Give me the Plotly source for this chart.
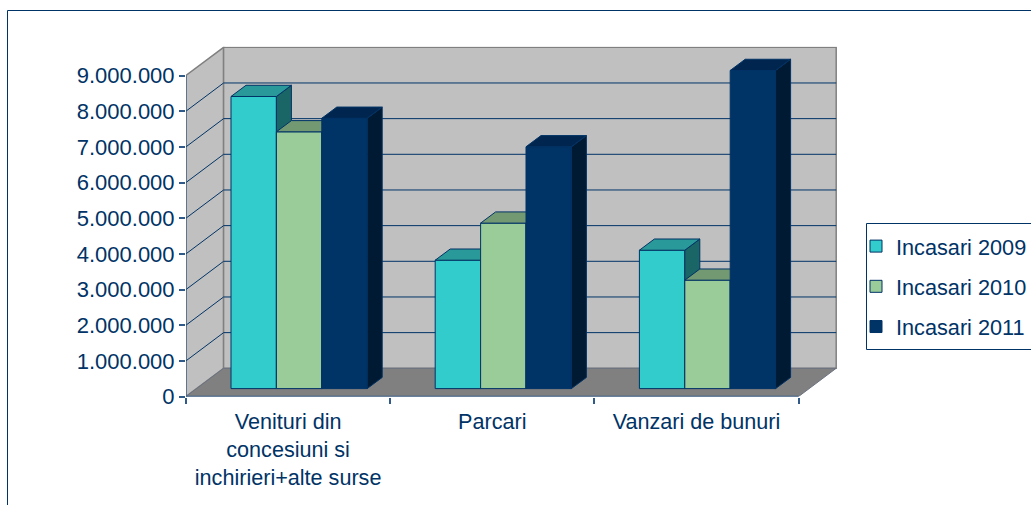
import plotly.graph_objects as go

W, H = 1031, 505
CATEGORIES = ["Venituri din<br>concesiuni si<br>inchirieri+alte surse", "Parcari", "Vanzari de bunuri"]
SERIES_NAMES = ["Incasari 2009", "Incasari 2010", "Incasari 2011"]
V2009 = [8190000, 3600000, 3880000]
V2010 = [7200000, 4640000, 3040000]
V2011 = [7580000, 6780000, 8920000]
Y_TICKS = [0, 1000000, 2000000, 3000000, 4000000, 5000000, 6000000, 7000000, 8000000, 9000000]
Y_LABELS = ["0", "1.000.000", "2.000.000", "3.000.000", "4.000.000", "5.000.000",
            "6.000.000", "7.000.000", "8.000.000", "9.000.000"]
FRONT = ["#33CCCC", "#99CC99", "#003366"]
TOP = ["#2A9999", "#739973", "#00264F"]
SIDE = ["#1A6666", "#4D664D", "#001A33"]
NAVY = "#003366"
AXIS = "#2F5A8A"
FONT = "Liberation Sans"

# geometry expressed in axis units
px_x = 612.6 / 3
px_y = 321.0 / 9e6
left, right, bottom, top = 186.0, 837.0, 396.5, 46.7
xmax = (right - left) / px_x
ymax = (bottom - top) / px_y
wall_dx = 37.6 / px_x
wall_dy = 28.2 / px_y
bar_dx = 15.0 / px_x
bar_dy = 11.2 / px_y
bar_w = 45.4 / px_x
bar_start = 45.0 / px_x
bar_base = 7.9 / px_y


def px(x):
    return x / W


def py(y):
    return 1 - y / H


def poly(points):
    return "M" + "L".join(f"{a},{b}" for a, b in points) + "Z"


shapes = []
# chart frame and legend frame
shapes.append(dict(type="rect", xref="paper", yref="paper", x0=px(7.5), x1=px(1100), y0=py(560), y1=py(10.5),
                   line=dict(color=NAVY, width=1), layer="below"))
shapes.append(dict(type="rect", xref="paper", yref="paper", x0=px(866.5), x1=px(1100), y0=py(349.5), y1=py(223.5),
                   line=dict(color=NAVY, width=1), layer="below"))
top_tick = Y_TICKS[-1]
n_cat = len(CATEGORIES)
wall = dict(color="#808080", width=1.5)
shapes.append(dict(type="path", xref="x", yref="y", layer="below", fillcolor="#C0C0C0", line=wall,
                   path=poly([(0, 0), (wall_dx, wall_dy), (wall_dx, top_tick + wall_dy), (0, top_tick)])))
shapes.append(dict(type="path", xref="x", yref="y", layer="below", fillcolor="#C0C0C0", line=wall,
                   path=poly([(wall_dx, wall_dy), (n_cat + wall_dx, wall_dy), (n_cat + wall_dx, top_tick + wall_dy),
                              (wall_dx, top_tick + wall_dy)])))
shapes.append(dict(type="path", xref="x", yref="y", layer="below", fillcolor="#808080", line=dict(color="#6A7280", width=1),
                   path=poly([(0, 0), (n_cat, 0), (n_cat + wall_dx, wall_dy), (wall_dx, wall_dy)])))
for t in Y_TICKS[1:-1]:
    shapes.append(dict(type="path", xref="x", yref="y", layer="below", line=dict(color=NAVY, width=1),
                       path=f"M0,{t}L{wall_dx},{t + wall_dy}L{n_cat + wall_dx},{t + wall_dy}"))
# axis lines
shapes.append(dict(type="line", xref="x", yref="y", x0=0, x1=0, y0=0, y1=top_tick, layer="below",
                   line=dict(color=AXIS, width=1)))
shapes.append(dict(type="line", xref="x", yref="y", x0=0, x1=n_cat, y0=0, y1=0, layer="above",
                   line=dict(color=AXIS, width=1.5)))

fig = go.Figure()
for s, (name, values) in enumerate(zip(SERIES_NAMES, [V2009, V2010, V2011])):
    suffix = str(s + 2)
    xa, ya = "x" + suffix, "y" + suffix
    lefts = [c + bar_start + s * bar_w for c in range(n_cat)]
    fig.add_trace(go.Bar(x=[a + bar_w / 2 for a in lefts], y=values, base=[bar_base] * n_cat, width=bar_w,
                         name=name, legendgroup=name, xaxis=xa, yaxis=ya,
                         marker=dict(color=FRONT[s], line=dict(color=NAVY, width=1))))
    for a, v in zip(lefts, values):
        b = a + bar_w
        t = bar_base + v
        fig.add_trace(go.Scatter(x=[b, b + bar_dx, b + bar_dx, b, b],
                                 y=[t, t + bar_dy, bar_base + bar_dy, bar_base, t],
                                 mode="lines", fill="toself", fillcolor=SIDE[s], line=dict(color=NAVY, width=1),
                                 showlegend=False, legendgroup=name, xaxis=xa, yaxis=ya, hoverinfo="skip"))
        fig.add_trace(go.Scatter(x=[a, b, b + bar_dx, a + bar_dx, a],
                                 y=[t, t, t + bar_dy, t + bar_dy, t],
                                 mode="lines", fill="toself", fillcolor=TOP[s], line=dict(color=NAVY, width=1),
                                 showlegend=False, legendgroup=name, xaxis=xa, yaxis=ya, hoverinfo="skip"))

x_dom = [px(left), px(right)]
y_dom = [py(bottom), py(top)]
hidden_x = dict(domain=x_dom, range=[0, xmax], visible=False, overlaying="x", fixedrange=True)
hidden_y = dict(domain=y_dom, range=[0, ymax], visible=False, overlaying="y", fixedrange=True)
layout_axes = {}
for i in (2, 3, 4):
    layout_axes[f"xaxis{i}"] = dict(hidden_x, anchor=f"y{i}")
    layout_axes[f"yaxis{i}"] = dict(hidden_y, anchor=f"x{i}")

tick_font = dict(family=FONT, size=21.6, color=NAVY)
fig.update_layout(
    width=W, height=H, autosize=False,
    margin=dict(l=0, r=0, t=0, b=0, autoexpand=False),
    paper_bgcolor="white", plot_bgcolor="rgba(0,0,0,0)",
    barmode="overlay", shapes=shapes,
    font=dict(family=FONT, color=NAVY),
    xaxis=dict(domain=x_dom, range=[0, xmax], tickmode="array",
               tickvals=[c + 0.5 for c in range(n_cat)], ticktext=CATEGORIES, ticks="", showgrid=False,
               zeroline=False, showline=False, tickfont=tick_font, automargin=False, ticklabelstandoff=10,
               minor=dict(tickmode="array", tickvals=list(range(n_cat + 1)), ticks="outside", ticklen=6,
                          tickwidth=1.5, tickcolor=AXIS, showgrid=False)),
    yaxis=dict(domain=y_dom, range=[0, ymax], tickmode="array", tickvals=Y_TICKS, ticktext=Y_LABELS,
               ticks="outside", ticklen=6, tickwidth=1.5, tickcolor=AXIS, showgrid=False, zeroline=False,
               showline=False, tickfont=dict(family=FONT, size=22, color=NAVY), automargin=False),
    legend=dict(x=px(856), y=py(225.5), xanchor="left", yanchor="top", traceorder="grouped", tracegroupgap=9,
                borderwidth=0, bgcolor="rgba(0,0,0,0)", font=dict(family=FONT, size=21.7, color=NAVY)),
    **layout_axes,
)

fig.write_html("out.html", config=dict(displayModeBar=False),
               post_script="document.body.style.margin='0';document.documentElement.style.overflow='hidden';")
